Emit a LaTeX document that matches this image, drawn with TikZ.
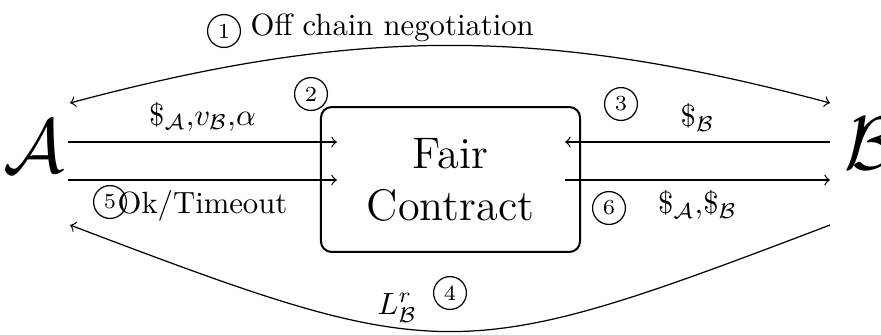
\documentclass[tikz,border=0pt]{standalone}
\usepackage{amssymb}
\begin{document}
\begin{tikzpicture}[x=0.3257pt,y=-0.3257pt,
  conn/.style={->,thin},
  num/.style={circle,draw,thin,inner sep=0pt,minimum size=10.7pt,font=\scriptsize},
  contract/.style={draw,line width=0.65pt,rounded corners=3.5pt,minimum width=84.4pt,minimum height=47.2pt,align=center,font=\Large},
  party/.style={font=\Huge,inner sep=0pt}]
\useasboundingbox (0,0) rectangle (881,334);
% parties and contract
\node[party] (A) at (34,146) {$\mathcal{A}$};
\node[party] (B) at (871,143) {$\mathcal{B}$};
\node[contract] (C) at (450.5,179.5) {Fair\\[-1pt]Contract};
% connector end points
\coordinate (c1l) at (70,103);
\coordinate (c1r) at (830,103);
\coordinate (a2s) at (68,142);
\coordinate (a2e) at (337,142);
\coordinate (a3s) at (830,142);
\coordinate (a3e) at (565,142);
\coordinate (a5s) at (68,180);
\coordinate (a5e) at (337,180);
\coordinate (a6s) at (565,180);
\coordinate (a6e) at (830,180);
\coordinate (c4r) at (830,225);
\coordinate (c4l) at (70,225);
% connectors
\draw[<->,thin] (c1l) to[bend left=15] (c1r);
\draw[conn] (a2s) -- node[above] {$\$_{\mathcal{A}}{,}v_{\mathcal{B}}{,}\alpha$} (a2e);
\draw[conn] (a3s) -- node[above] {$\$_{\mathcal{B}}$} (a3e);
\draw[conn] (a5s) -- node[below] {Ok/Timeout} (a5e);
\draw[conn] (a6s) -- node[below] {$\$_{\mathcal{A}}{,}\$_{\mathcal{B}}$} (a6e);
\draw[conn] (c4r) .. controls (457,367) and (444,367) .. (c4l);
% labels
\node[anchor=base west,inner sep=0pt] (t1) at (250,35) {Off chain negotiation};
\node[anchor=base west,inner sep=0pt] (t4) at (377,314) {$L^{r}_{\mathcal{B}}$};
% step numbers
\node[num] (n1) at (224,31) {1};
\node[num] (n2) at (311,94) {2};
\node[num] (n3) at (621,104) {3};
\node[num] (n4) at (450,293) {4};
\node[num] (n5) at (110,202) {5};
\node[num] (n6) at (609,208) {6};
\end{tikzpicture}
\end{document}
